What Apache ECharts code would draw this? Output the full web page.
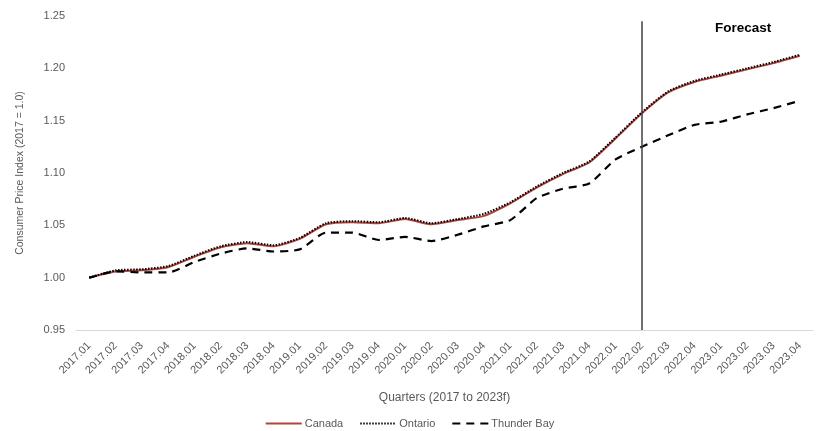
<!DOCTYPE html>
<html><head><meta charset="utf-8">
<script src="https://cdn.jsdelivr.net/npm/echarts@6/dist/echarts.min.js"></script>
<style>html,body{margin:0;padding:0;background:#fff}#c{width:819px;height:431px}</style>
</head><body><div id="c"></div>
<script>
const quarters = ['2017.01','2017.02','2017.03','2017.04','2018.01','2018.02','2018.03','2018.04','2019.01','2019.02','2019.03','2019.04','2020.01','2020.02','2020.03','2020.04','2021.01','2021.02','2021.03','2021.04','2022.01','2022.02','2022.03','2022.04','2023.01','2023.02','2023.03','2023.04'];
const canada = [1.000,1.006,1.007,1.010,1.020,1.029,1.033,1.030,1.037,1.051,1.053,1.052,1.056,1.051,1.055,1.059,1.071,1.086,1.099,1.110,1.133,1.157,1.177,1.187,1.193,1.199,1.205,1.212];
const ontario = [1.000,1.007,1.008,1.011,1.021,1.030,1.034,1.031,1.038,1.052,1.054,1.053,1.057,1.052,1.056,1.061,1.072,1.087,1.100,1.111,1.134,1.158,1.178,1.188,1.194,1.200,1.206,1.213];
const thunderBay = [1.000,1.006,1.005,1.005,1.015,1.023,1.028,1.025,1.027,1.043,1.043,1.036,1.039,1.035,1.041,1.049,1.055,1.076,1.085,1.090,1.113,1.125,1.136,1.146,1.149,1.156,1.162,1.169];
const forecastStart = '2022.02';
const yTicks = {min:0.95, max:1.25, interval:0.05};

const font = 'Liberation Sans';
const chart = echarts.init(document.getElementById('c'));
chart.setOption({
  animation:false,
  textStyle:{fontFamily:font},
  title:{text:'Forecast', left:710, top:16, textStyle:{fontSize:13.5, fontWeight:'bold', color:'#000', fontFamily:font}},
  grid:{left:76, right:6, top:16, bottom:101},
  legend:{bottom:-3, left:'center', itemWidth:36, itemHeight:10, itemGap:16,
    itemStyle:{opacity:0},
    textStyle:{color:'#595959', fontSize:11, padding:[0,0,0,-2]},
    data:['Canada','Ontario','Thunder Bay']},
  xAxis:{type:'category', data:quarters, boundaryGap:true,
    name:'Quarters (2017 to 2023f)', nameLocation:'middle', nameGap:62,
    nameTextStyle:{color:'#595959', fontSize:12},
    axisLine:{lineStyle:{color:'#d9d9d9'}}, axisTick:{show:false},
    axisLabel:{rotate:45, color:'#595959', fontSize:11, interval:0, margin:14}},
  yAxis:{type:'value', min:yTicks.min, max:yTicks.max, interval:yTicks.interval,
    name:'Consumer Price Index (2017 = 1.0)', nameLocation:'middle', nameGap:50,
    nameTextStyle:{color:'#595959', fontSize:10.5},
    splitLine:{show:false}, axisLine:{show:false}, axisTick:{show:false},
    axisLabel:{color:'#595959', fontSize:11, margin:11, formatter:v=>v.toFixed(2)}},
  series:[
    {name:'Canada', type:'line', data:canada, symbol:'none', smooth:0.2,
     lineStyle:{color:'#b3423b', width:2}, itemStyle:{color:'#b3423b'},
     markLine:{silent:true, symbol:'none', label:{show:false},
       lineStyle:{color:'#404040', width:1.5, type:'solid'},
       data:[[{coord:[forecastStart,1.245]},{coord:[forecastStart,0.95]}]]}},
    {name:'Ontario', type:'line', data:ontario, symbol:'none', smooth:0.2,
     lineStyle:{color:'#000', width:2, type:[1.5,1.5]}, itemStyle:{color:'#000'}},
    {name:'Thunder Bay', type:'line', data:thunderBay, symbol:'none', smooth:0.2,
     lineStyle:{color:'#000', width:2.2, type:[8,6]}, itemStyle:{color:'#000'}}
  ]
});
</script></body></html>
